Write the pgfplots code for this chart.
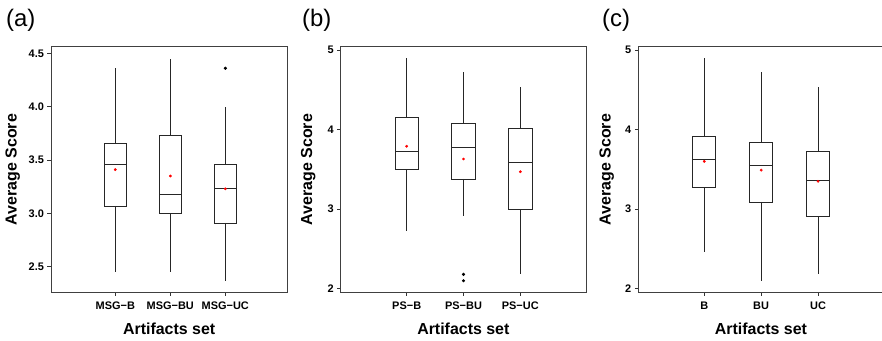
\documentclass[border=0pt]{standalone}
\usepackage{fontspec}
\setmainfont{Liberation Sans}
\usepackage{pgfplots}
\pgfplotsset{compat=1.18}
\usepgfplotslibrary{statistics}
\pgfplotsset{
  panel/.style={
    scale only axis,
    height=245.6bp,
    axis line style={black!75, line width=0.7bp},
    major tick style={black!80, line width=0.6bp},
    minor tick num=0,
    tick align=outside,
    major tick length=3.5bp,
    xtick={1,2,3},
    ytick pos=left, xtick pos=bottom,
    tick label style={font=\fontsize{11}{12}\selectfont\bfseries},
    xticklabel style={yshift=-2.5bp},
    /pgf/number format/assume math mode=true,
    xlabel={Artifacts set},
    ylabel={Average Score},
    label style={font=\fontsize{16}{18}\selectfont\bfseries},
    xlabel style={at={(axis description cs:0.5,-0.147)}, anchor=center},
    boxplot/draw direction=y,
    boxplot/whisker extend=0,
  },
  bx/.style={black!85, line width=0.75bp, solid, mark=*, mark size=1.2bp, mark options={fill=black, draw=black}},
  meanmk/.style={only marks, mark=*, mark size=1.2bp, red, mark options={fill=red}},
}
\begin{document}
\begin{tikzpicture}
% (a)
\begin{axis}[panel, at={(51bp,48.7bp)}, anchor=south west,
  width=236.3bp, xmin=-0.169, xmax=4.127, ymin=2.26, ymax=4.562,
  xticklabels={MSG−B, MSG−BU, MSG−UC},
  ytick={2.5,3,3.5,4,4.5},
  yticklabel style={/pgf/number format/.cd, fixed, fixed zerofill, precision=1},
  ylabel style={at={(axis description cs:-0.162,0.5)}, anchor=center},
  boxplot/box extend=0.395]
\addplot[bx, boxplot prepared={draw position=1, lower whisker=2.45, lower quartile=3.07, median=3.46, upper quartile=3.66, upper whisker=4.36}] coordinates {};
\addplot[bx, boxplot prepared={draw position=2, lower whisker=2.45, lower quartile=3.00, median=3.18, upper quartile=3.73, upper whisker=4.45}] coordinates {};
\addplot[bx, boxplot prepared={draw position=3, lower whisker=2.37, lower quartile=2.91, median=3.23, upper quartile=3.46, upper whisker=4.00}] coordinates {(0,4.36)};
\addplot[meanmk] coordinates {(1,3.41) (2,3.35) (3,3.23)};
\end{axis}
% (b)
\begin{axis}[panel, at={(340.7bp,48.7bp)}, anchor=south west,
  width=245.3bp, xmin=-0.162, xmax=4.157, ymin=1.955, ymax=5.041,
  xticklabels={PS−B, PS−BU, PS−UC},
  ytick={2,3,4,5},
  ylabel style={at={(axis description cs:-0.132,0.5)}, anchor=center},
  boxplot/box extend=0.41]
\addplot[bx, boxplot prepared={draw position=1, lower whisker=2.73, lower quartile=3.50, median=3.72, upper quartile=4.15, upper whisker=4.90}] coordinates {};
\addplot[bx, boxplot prepared={draw position=2, lower whisker=2.91, lower quartile=3.38, median=3.77, upper quartile=4.08, upper whisker=4.72}] coordinates {(0,2.18) (0,2.10)};
\addplot[bx, boxplot prepared={draw position=3, lower whisker=2.18, lower quartile=3.00, median=3.59, upper quartile=4.02, upper whisker=4.53}] coordinates {};
\addplot[meanmk] coordinates {(1,3.79) (2,3.63) (3,3.47)};
\end{axis}
% (c)
\begin{axis}[panel, at={(638.3bp,48.7bp)}, anchor=south west,
  width=245.3bp, xmin=-0.161, xmax=4.154, ymin=1.955, ymax=5.041,
  xticklabels={B, BU, UC},
  ytick={2,3,4,5},
  ylabel style={at={(axis description cs:-0.129,0.5)}, anchor=center},
  boxplot/box extend=0.405]
\addplot[bx, boxplot prepared={draw position=1, lower whisker=2.46, lower quartile=3.27, median=3.63, upper quartile=3.92, upper whisker=4.90}] coordinates {};
\addplot[bx, boxplot prepared={draw position=2, lower whisker=2.10, lower quartile=3.09, median=3.55, upper quartile=3.84, upper whisker=4.72}] coordinates {};
\addplot[bx, boxplot prepared={draw position=3, lower whisker=2.18, lower quartile=2.91, median=3.36, upper quartile=3.72, upper whisker=4.53}] coordinates {};
\addplot[meanmk] coordinates {(1,3.60) (2,3.49) (3,3.35)};
\end{axis}
\node[anchor=west, font=\fontsize{24}{26}\selectfont, inner sep=0pt] at (6bp,321bp) {(a)};
\node[anchor=west, font=\fontsize{24}{26}\selectfont, inner sep=0pt] at (302bp,321bp) {(b)};
\node[anchor=west, font=\fontsize{24}{26}\selectfont, inner sep=0pt] at (602bp,321bp) {(c)};
\pgfresetboundingbox
\useasboundingbox (0,0) rectangle (882bp,341bp);
\end{tikzpicture}
\end{document}
